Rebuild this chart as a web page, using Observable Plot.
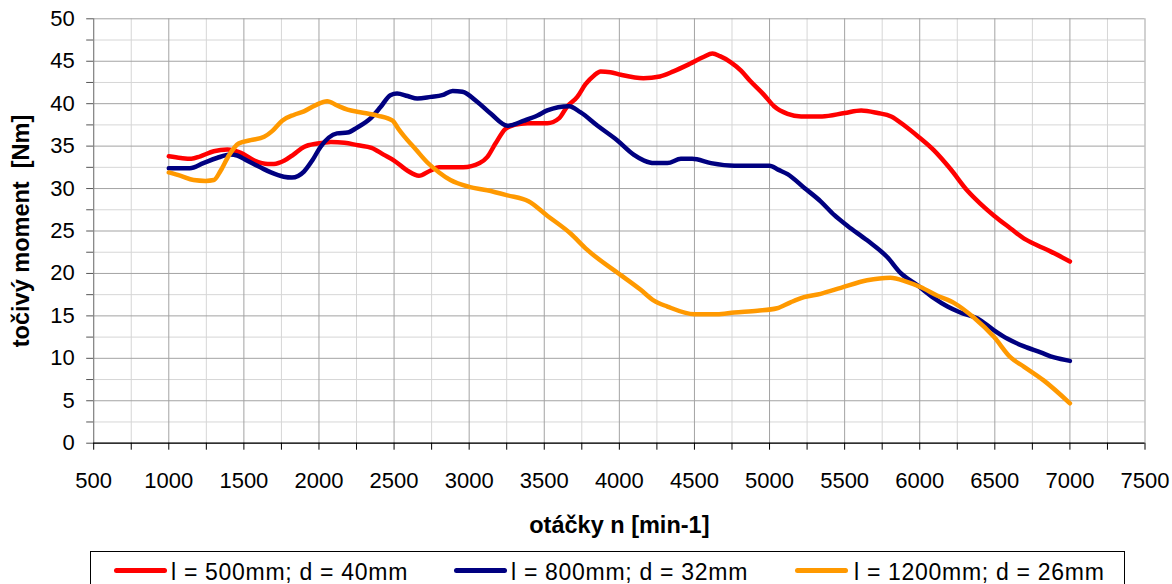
<!DOCTYPE html>
<html>
<head>
<meta charset="utf-8">
<script src="https://cdn.jsdelivr.net/npm/d3@7"></script>
<script src="https://cdn.jsdelivr.net/npm/@observablehq/plot@0.6"></script>
<style>
  html, body { margin: 0; padding: 0; background: #fff; }
  #wrap { position: relative; width: 1172px; height: 584px; overflow: hidden; font-family: "Liberation Sans", Arial, sans-serif; }
  #legend { position: absolute; left: 90px; top: 551px; width: 1035px; height: 50px; border: 1px solid #000; box-sizing: border-box; background: #fff; }
  .sw { position: absolute; top: 16px; width: 53px; height: 5px; border-radius: 2.5px; }
  .lt { position: absolute; top: 9px; font-size: 23px; line-height: 23px; letter-spacing: 0.7px; color: #000; white-space: nowrap; }
</style>
</head>
<body>
<div id="wrap"><div id="chart"></div><div id="legend"></div></div>
<script>
// ---- data ----
const seriesNames = ["l = 500mm; d = 40mm", "l = 800mm; d = 32mm", "l = 1200mm; d = 26mm"];
const seriesColors = ["#ff0000", "#000080", "#ff9900"];

const rpmRed = [1000,1080,1150,1210,1300,1390,1480,1570,1660,1700,1770,1830,1900,1990,2080,2170,2260,2350,2430,2500,2590,2665,2740,2800,2960,3070,3120,3175,3240,3300,3390,3520,3600,3650,3720,3775,3830,3875,3940,4010,4160,4270,4360,4470,4560,4620,4670,4740,4810,4870,4960,5030,5120,5210,5350,5500,5610,5720,5810,5900,5985,6095,6205,6315,6405,6495,6605,6695,6785,6870,7000];
const torqueRed = [33.8,33.6,33.5,33.8,34.4,34.6,34.2,33.3,32.9,32.9,33.3,34.0,34.9,35.3,35.5,35.4,35.1,34.8,34.0,33.3,32.1,31.5,32.1,32.5,32.5,33.0,33.7,35.3,37.0,37.5,37.7,37.7,38.3,39.6,40.8,42.3,43.3,43.8,43.7,43.4,43.0,43.2,43.8,44.7,45.5,45.9,45.6,44.9,43.9,42.7,41.1,39.7,38.8,38.5,38.5,38.9,39.2,38.9,38.5,37.4,36.2,34.5,32.3,29.8,28.2,26.8,25.3,24.1,23.3,22.6,21.4];

const rpmBlue = [1000,1140,1230,1320,1410,1455,1520,1610,1680,1765,1820,1900,1955,2010,2065,2120,2190,2255,2345,2410,2475,2520,2590,2655,2745,2820,2890,2955,3055,3145,3255,3365,3455,3520,3665,3740,3855,3985,4095,4165,4230,4320,4410,4485,4610,4765,5000,5060,5120,5230,5340,5430,5520,5650,5785,5870,5985,6095,6185,6270,6385,6495,6585,6695,6805,6895,7000];
const torqueBlue = [32.4,32.4,33.0,33.6,34.0,33.9,33.3,32.5,31.9,31.4,31.3,32.0,33.3,34.9,36.0,36.5,36.6,37.2,38.3,39.6,41.0,41.2,40.9,40.6,40.8,41.0,41.5,41.4,40.2,38.8,37.4,38.0,38.6,39.2,39.7,39.0,37.4,35.7,34.0,33.3,33.0,33.0,33.5,33.5,33.0,32.7,32.7,32.2,31.7,30.1,28.5,26.9,25.6,23.9,21.9,20.1,18.6,17.1,16.1,15.4,14.7,13.3,12.3,11.4,10.7,10.1,9.7];

const rpmOrange = [1000,1080,1165,1245,1300,1345,1400,1465,1545,1635,1690,1755,1835,1900,1975,2055,2120,2190,2275,2390,2490,2530,2565,2645,2720,2800,2875,3000,3120,3255,3395,3520,3675,3785,4010,4140,4230,4320,4500,4650,4765,4920,5050,5140,5230,5340,5475,5650,5805,5915,6005,6115,6230,6360,6495,6605,6695,6825,7000];
const torqueOrange = [31.9,31.5,31.0,30.9,31.0,32.1,33.9,35.3,35.7,36.1,36.8,38.0,38.7,39.1,39.8,40.3,39.8,39.3,39.0,38.6,38.0,37.0,36.2,34.6,33.1,31.9,31.0,30.2,29.8,29.2,28.5,26.8,24.7,22.8,19.8,18.1,16.8,16.1,15.2,15.2,15.4,15.6,15.9,16.6,17.2,17.6,18.3,19.2,19.5,19.0,18.4,17.4,16.5,14.8,12.5,10.1,9.0,7.4,4.7];

const xTickLabels = [500,1000,1500,2000,2500,3000,3500,4000,4500,5000,5500,6000,6500,7000,7500];
const yTickLabels = [0,5,10,15,20,25,30,35,40,45,50];
const xTitle = "otáčky n [min-1]";
const yTitle = "točivý moment\u00a0 [Nm]";

// ---- build ----
const rpmAll = [rpmRed, rpmBlue, rpmOrange];
const torqueAll = [torqueRed, torqueBlue, torqueOrange];
const rows = [];
seriesNames.forEach((name, i) => {
  rpmAll[i].forEach((r, j) => rows.push({series: name, rpm: r, torque: torqueAll[i][j]}));
});

const xMinorTicks = d3.range(500, 7501, 250);
const xMinorOnly = xMinorTicks.filter(d => d % 500 !== 0);
const yMinorTicks = d3.range(0, 50.01, 2.5);
const yMinorOnly = yMinorTicks.filter(d => d % 5 !== 0);

const font = "'Liberation Sans', Arial, sans-serif";

const chart = Plot.plot({
  width: 1172,
  height: 548,
  marginLeft: 93.2,
  marginRight: 27.5,
  marginTop: 18.3,
  marginBottom: 105.3,
  style: {fontFamily: font, background: "#fff", color: "#000"},
  x: {domain: [500, 7500]},
  y: {domain: [0, 50]},
  color: {domain: seriesNames, range: seriesColors},
  marks: [
    Plot.ruleX(xMinorOnly, {stroke: "#d6d6d6", strokeWidth: 1}),
    Plot.ruleY(yMinorOnly, {stroke: "#d6d6d6", strokeWidth: 1}),
    Plot.ruleX(xTickLabels, {stroke: "#a3a3a3", strokeWidth: 1}),
    Plot.ruleY(yTickLabels, {stroke: "#a3a3a3", strokeWidth: 1}),
    Plot.axisY({ticks: yMinorTicks, tickSize: 7, tickFormat: () => "", stroke: "#555", label: null}),
    Plot.axisY({ticks: yTickLabels, tickSize: 0, tickPadding: 19, fontSize: 22, tickFormat: d => String(d), label: null}),
    Plot.ruleX([500], {stroke: "#808080", strokeWidth: 1}),
    Plot.axisX({ticks: xMinorTicks, tickSize: 7, tickFormat: () => "", stroke: "#000", label: null}),
    Plot.axisX({ticks: xTickLabels, tickSize: 0, tickPadding: 29, fontSize: 22, tickFormat: d => String(d), label: null}),
    Plot.ruleY([0], {stroke: "#000", strokeWidth: 1.2}),
    Plot.line(rows, {x: "rpm", y: "torque", z: "series", stroke: "series", strokeWidth: 4.5, curve: "monotone-x", strokeLinejoin: "round", strokeLinecap: "round"}),
    Plot.text([yTitle], {frameAnchor: "left", dx: -72, rotate: -90, textAnchor: "middle", lineAnchor: "middle", fontSize: 23.5, fontWeight: "bold", fill: "#000"}),
    Plot.text([xTitle], {frameAnchor: "bottom", dy: 82, textAnchor: "middle", lineAnchor: "middle", fontSize: 23.5, fontWeight: "bold", fill: "#000"})
  ]
});
document.getElementById("chart").appendChild(chart);

// ---- legend ----
const legend = document.getElementById("legend");
const swLeft = [23, 363, 704];
const txtLeft = [80, 420, 763];
seriesNames.forEach((name, i) => {
  const sw = document.createElement("div");
  sw.className = "sw";
  sw.style.left = swLeft[i] + "px";
  sw.style.background = seriesColors[i];
  legend.appendChild(sw);
  const t = document.createElement("span");
  t.className = "lt";
  t.style.left = txtLeft[i] + "px";
  t.textContent = name;
  legend.appendChild(t);
});
</script>
</body>
</html>
